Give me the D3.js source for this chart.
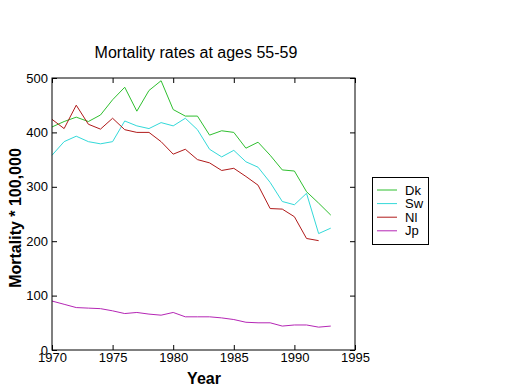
<!DOCTYPE html>
<html>
<head>
<meta charset="utf-8">
<script src="https://cdn.jsdelivr.net/npm/d3@7"></script>
<style>
  body { margin: 0; background: #fff; }
  svg { display: block; font-family: "Liberation Sans", Arial, sans-serif; }
</style>
</head>
<body>
<div id="chart"></div>
<script>
// data
const years = d3.range(1970, 1994);
const dk = [410, 420, 428, 420, 432, 460, 483, 439, 477, 495, 442, 430, 430, 395, 403, 400, 371, 382, 358, 331, 329, 291, 270, 248];
const sw = [358, 383, 393, 383, 379, 383, 421, 412, 407, 418, 412, 426, 405, 369, 355, 367, 346, 336, 308, 273, 267, 288, 214, 224];
const nl = [424, 407, 450, 415, 406, 426, 405, 400, 400, 383, 360, 369, 350, 344, 330, 334, 319, 303, 260, 259, 245, 205, 201];
const jp = [90, 84, 78, 77, 76, 72, 67, 69, 66, 64, 69, 61, 61, 61, 59, 56, 51, 50, 50, 44, 46, 46, 42, 44];
const seriesNames = ["Dk", "Sw", "Nl", "Jp"];
const seriesColors = ["#2fbf2f", "#33d9d9", "#b01a1a", "#b526b5"];
const xTicks = [1970, 1975, 1980, 1985, 1990, 1995];
const yTicks = [0, 100, 200, 300, 400, 500];

const series = [dk, sw, nl, jp].map((vals, i) => ({
    name: seriesNames[i],
    color: seriesColors[i],
    values: vals.map((v, j) => ({ year: years[j], value: v }))
}));

const W = 520, H = 390;
const plot = { left: 52, right: 355, top: 78, bottom: 350 };

const svg = d3.select("#chart").append("svg")
    .attr("width", W)
    .attr("height", H);

const x = d3.scaleLinear().domain([1970, 1995]).range([plot.left, plot.right]);
const y = d3.scaleLinear().domain([0, 500]).range([plot.bottom, plot.top]);

// lines
const line = d3.line()
    .x(d => x(d.year))
    .y(d => y(d.value));

svg.append("g").selectAll("path")
    .data(series)
    .join("path")
    .attr("fill", "none")
    .attr("stroke", d => d.color)
    .attr("stroke-width", 1)
    .attr("d", d => line(d.values));

// axes, ticks pointing inward on all four sides
const tickLen = 5;
const styleAxis = g => {
    g.select(".domain").remove();
    g.selectAll(".tick line").attr("stroke", "#000");
    g.selectAll("text").attr("fill", "#000").style("font-size", "13px");
};

svg.append("g")
    .attr("transform", `translate(0,${plot.bottom})`)
    .call(d3.axisBottom(x).tickValues(xTicks).tickFormat(d3.format("d")).tickSize(-tickLen).tickPadding(3))
    .call(styleAxis);

svg.append("g")
    .attr("transform", `translate(${plot.left},0)`)
    .call(d3.axisLeft(y).tickValues(yTicks).tickSize(-tickLen).tickPadding(4))
    .call(styleAxis);

svg.append("g")
    .attr("transform", `translate(0,${plot.top})`)
    .call(d3.axisTop(x).tickValues(xTicks).tickSize(-tickLen).tickFormat(""))
    .call(styleAxis);

svg.append("g")
    .attr("transform", `translate(${plot.right},0)`)
    .call(d3.axisRight(y).tickValues(yTicks).tickSize(-tickLen).tickFormat(""))
    .call(styleAxis);

// frame
svg.append("rect")
    .attr("x", plot.left)
    .attr("y", plot.top)
    .attr("width", plot.right - plot.left)
    .attr("height", plot.bottom - plot.top)
    .attr("fill", "none")
    .attr("stroke", "#000");

// title + labels
svg.append("text")
    .attr("x", 196)
    .attr("y", 58)
    .attr("text-anchor", "middle")
    .style("font-size", "16px")
    .text("Mortality rates at ages 55-59");

svg.append("text")
    .attr("x", 204)
    .attr("y", 384)
    .attr("text-anchor", "middle")
    .style("font-size", "16px")
    .style("font-weight", "bold")
    .text("Year");

svg.append("text")
    .attr("transform", "translate(21,218) rotate(-90)")
    .attr("text-anchor", "middle")
    .style("font-size", "16px")
    .style("font-weight", "bold")
    .text("Mortality * 100,000");

// legend
const legend = svg.append("g");
legend.append("rect")
    .attr("x", 372.5)
    .attr("y", 177.5)
    .attr("width", 56)
    .attr("height", 67)
    .attr("fill", "#fff")
    .attr("stroke", "#000");

const items = legend.selectAll(".item")
    .data(series)
    .join("g")
    .attr("class", "item")
    .attr("transform", (d, i) => `translate(0,${190 + i * 13.6})`);

items.append("line")
    .attr("x1", 377)
    .attr("x2", 397)
    .attr("stroke", d => d.color);

items.append("text")
    .attr("x", 405)
    .attr("dy", "0.35em")
    .style("font-size", "13px")
    .text(d => d.name);
</script>
</body>
</html>
